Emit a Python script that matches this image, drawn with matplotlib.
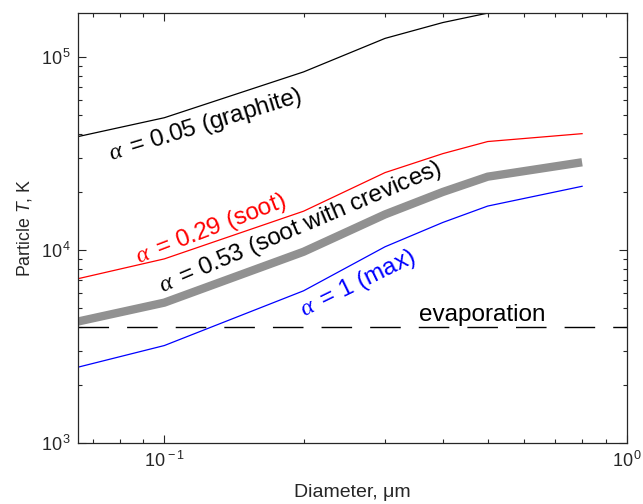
import matplotlib
matplotlib.use("Agg")
import matplotlib.pyplot as plt
import numpy as np
from matplotlib.ticker import LogLocator, FuncFormatter, NullFormatter

plt.rcParams['font.family'] = ['Liberation Sans', 'DejaVu Sans']
plt.rcParams['mathtext.fontset'] = 'custom'
plt.rcParams['mathtext.rm'] = 'Liberation Sans'
plt.rcParams['mathtext.it'] = 'Liberation Serif:italic'
plt.rcParams['mathtext.sf'] = 'Liberation Sans:italic'

# particle diameter, um
diameter = [0.065, 0.1, 0.2, 0.3, 0.4, 0.5, 0.8]
# particle temperature, K, for each absorption efficiency
t_graphite = [38700, 48500, 83800, 125000, 151000, 169000, 169000]
t_soot = [7100, 9000, 15900, 25200, 31600, 36500, 40100]
t_crevices = [4260, 5340, 9800, 15300, 20000, 24000, 28500]
t_max = [2470, 3200, 6150, 10400, 13900, 16900, 21400]
t_evap = 4000

axc = (0.15, 0.15, 0.15)

fig = plt.figure(figsize=(6.43, 5.04), dpi=100)
ax = fig.add_axes([0.121, 0.121, 0.854, 0.853])

ax.plot(diameter, t_graphite, color='black', lw=0.9)
ax.plot(diameter, t_soot, color='red', lw=0.9)
ax.plot(diameter, t_crevices, color=(0.57, 0.57, 0.57), lw=6, solid_capstyle='butt')
ax.plot(diameter, t_max, color='blue', lw=0.9)
ax.axhline(t_evap, color='black', lw=1, dashes=(22, 13))

ax.set_xscale('log')
ax.set_yscale('log')
ax.set_xlim(0.065, 1)
ax.set_ylim(1e3, 1.69e5)

fmt = FuncFormatter(lambda v, p: r'$\mathregular{10^{\,%d}}$' % int(round(np.log10(v))))
ax.xaxis.set_major_locator(LogLocator(base=10, numticks=10))
ax.yaxis.set_major_locator(LogLocator(base=10, numticks=10))
ax.xaxis.set_minor_locator(LogLocator(base=10, subs=np.arange(2, 10), numticks=20))
ax.yaxis.set_minor_locator(LogLocator(base=10, subs=np.arange(2, 10), numticks=20))
ax.xaxis.set_major_formatter(fmt)
ax.yaxis.set_major_formatter(fmt)
ax.xaxis.set_minor_formatter(NullFormatter())
ax.yaxis.set_minor_formatter(NullFormatter())
ax.tick_params(which='both', direction='in', top=True, right=True, color=axc,
               labelcolor=axc, labelsize=13, width=0.8)
ax.tick_params(which='major', length=6)
ax.tick_params(which='minor', length=3)
ax.tick_params(axis='x', pad=6)
ax.tick_params(axis='y', pad=5)
for s in ax.spines.values():
    s.set_color(axc)
    s.set_linewidth(0.9)

ax.set_xlabel(u'Diameter, \u03bcm', fontsize=14, color=axc, labelpad=9)
ax.set_ylabel(r'Particle $\mathsf{T}$, K', fontsize=12.8, color=axc, labelpad=5)

kw = dict(ha='center', va='center', rotation_mode='anchor', fontsize=17.5)
ax.text(0.1227, 44600, r'$\alpha\,$ = 0.05 (graphite)', rotation=17, color='black', **kw)
ax.text(0.1263, 12800, r'$\alpha\,$ = 0.29 (soot)', rotation=21, color='red', **kw)
ax.text(0.197, 13100, r'$\alpha\,$ = 0.53 (soot with crevices)', rotation=23, color='black', **kw)
ax.text(0.262, 6680, r'$\alpha\,$ = 1 (max)', rotation=26, color='blue', **kw)
ax.text(0.486, 4630, 'evaporation', color='black', **kw)

fig.savefig('out.png', dpi=100)
